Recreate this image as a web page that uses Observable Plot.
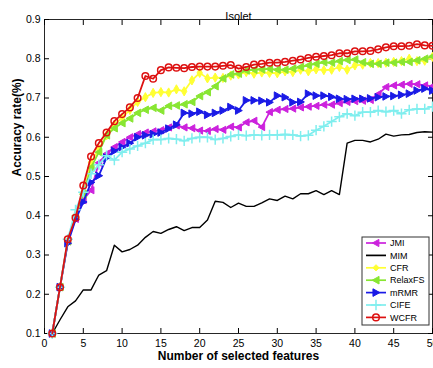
<!DOCTYPE html>
<html>
<head>
<meta charset="utf-8">
<script src="https://cdn.jsdelivr.net/npm/d3@7"></script>
<script src="https://cdn.jsdelivr.net/npm/@observablehq/plot@0.6"></script>
<style>
  html, body { margin: 0; padding: 0; background: #fff; overflow: hidden; }
</style>
</head>
<body>
<div id="chart"></div>
<script>
// ---------- data ----------
const features = [1,2,3,4,5,6,7,8,9,10,11,12,13,14,15,16,17,18,19,20,21,22,23,24,25,26,27,28,29,30,31,32,33,34,35,36,37,38,39,40,41,42,43,44,45,46,47,48,49,50];
const seriesNames = ["JMI", "MIM", "CFR", "RelaxFS", "mRMR", "CIFE", "WCFR"];

const JMI = [0.100,0.218,0.335,0.392,0.440,0.465,0.535,0.558,0.575,0.588,0.600,0.608,0.612,0.615,0.618,0.625,0.630,0.625,0.623,0.617,0.616,0.621,0.619,0.627,0.625,0.638,0.642,0.626,0.664,0.670,0.672,0.673,0.676,0.678,0.680,0.683,0.683,0.687,0.690,0.692,0.693,0.695,0.710,0.728,0.732,0.734,0.736,0.735,0.732,0.730];
const MIM = [0.100,0.135,0.168,0.183,0.211,0.211,0.249,0.260,0.325,0.308,0.314,0.325,0.345,0.360,0.355,0.365,0.372,0.362,0.370,0.370,0.389,0.437,0.434,0.421,0.432,0.424,0.424,0.433,0.443,0.439,0.450,0.443,0.456,0.456,0.464,0.454,0.464,0.454,0.585,0.592,0.592,0.588,0.595,0.608,0.603,0.606,0.607,0.612,0.614,0.613];
const CFR = [0.100,0.218,0.335,0.400,0.460,0.536,0.570,0.605,0.632,0.650,0.670,0.690,0.702,0.713,0.715,0.714,0.722,0.717,0.745,0.764,0.750,0.752,0.751,0.757,0.760,0.766,0.762,0.765,0.764,0.763,0.768,0.766,0.772,0.768,0.773,0.771,0.772,0.779,0.772,0.783,0.785,0.789,0.789,0.790,0.792,0.794,0.800,0.794,0.795,0.805];
const RelaxFS = [0.100,0.218,0.335,0.400,0.455,0.523,0.562,0.605,0.623,0.636,0.648,0.662,0.670,0.675,0.668,0.680,0.681,0.684,0.690,0.705,0.715,0.730,0.750,0.760,0.762,0.770,0.772,0.773,0.774,0.772,0.772,0.775,0.779,0.783,0.787,0.791,0.790,0.794,0.797,0.798,0.791,0.787,0.787,0.790,0.790,0.792,0.792,0.796,0.800,0.806];
const mRMR = [0.100,0.218,0.330,0.390,0.435,0.485,0.502,0.548,0.565,0.575,0.585,0.600,0.605,0.608,0.612,0.622,0.632,0.662,0.660,0.665,0.657,0.662,0.668,0.677,0.668,0.694,0.694,0.693,0.689,0.706,0.702,0.689,0.690,0.711,0.706,0.706,0.703,0.698,0.697,0.698,0.698,0.699,0.702,0.704,0.705,0.708,0.711,0.719,0.724,0.719];
const CIFE = [0.100,0.218,0.340,0.415,0.460,0.507,0.530,0.553,0.542,0.562,0.570,0.578,0.585,0.594,0.594,0.597,0.595,0.591,0.597,0.600,0.600,0.594,0.597,0.602,0.606,0.604,0.606,0.605,0.606,0.606,0.607,0.606,0.603,0.605,0.618,0.628,0.640,0.652,0.660,0.655,0.664,0.664,0.668,0.665,0.668,0.660,0.670,0.672,0.672,0.678];
const WCFR = [0.100,0.218,0.340,0.395,0.477,0.551,0.585,0.612,0.641,0.659,0.676,0.700,0.756,0.749,0.771,0.778,0.777,0.776,0.779,0.780,0.780,0.780,0.782,0.784,0.775,0.779,0.785,0.787,0.790,0.790,0.792,0.795,0.798,0.802,0.805,0.807,0.809,0.814,0.814,0.819,0.819,0.820,0.824,0.829,0.832,0.832,0.833,0.837,0.834,0.833];

const xTicks = [0,5,10,15,20,25,30,35,40,45,50];
const yTicks = [0.1,0.2,0.3,0.4,0.5,0.6,0.7,0.8,0.9];
const titleText = "Isolet";
const xLabel = "Number of selected features";
const yLabel = "Accuracy rate(%)";

// ---------- custom marker shapes ----------
const triLeft = { draw(ctx, size) { const r = Math.sqrt(size / Math.PI); ctx.moveTo(-r, 0); ctx.lineTo(r * 0.8, -r); ctx.lineTo(r * 0.8, r); ctx.closePath(); } };
const triRight = { draw(ctx, size) { const r = Math.sqrt(size / Math.PI); ctx.moveTo(r, 0); ctx.lineTo(-r * 0.8, -r); ctx.lineTo(-r * 0.8, r); ctx.closePath(); } };

const styles = {
  JMI:     { color: "#cc22dd", symbol: triLeft,  fill: "#cc22dd", r: 3.6 },
  MIM:     { color: "#000000", symbol: null },
  CFR:     { color: "#ffff33", symbol: "diamond", fill: "#ffff33", r: 2.8 },
  RelaxFS: { color: "#88e632", symbol: triLeft,  fill: "#88e632", r: 3.8 },
  mRMR:    { color: "#1a1ae6", symbol: triRight, fill: "#1a1ae6", r: 3.8 },
  CIFE:    { color: "#80eeee", symbol: "plus",   fill: "none",    r: 3.4 },
  WCFR:    { color: "#dd1111", symbol: "circle", fill: "none",    r: 3.3 }
};

const seriesValues = { JMI, MIM, CFR, RelaxFS, mRMR, CIFE, WCFR };
const rows = seriesNames.flatMap(name => features.map((f, i) => ({ name, x: f, y: seriesValues[name][i] })));

const marks = [
  Plot.frame({ stroke: "#262626", strokeWidth: 1 }),
  Plot.axisX(xTicks, { anchor: "bottom", tickSize: -5, tickPadding: 11, label: null, fontSize: 10.5 }),
  Plot.axisX(xTicks, { anchor: "top", tickSize: -5, tickFormat: () => "", label: null }),
  Plot.axisY(yTicks, { anchor: "left", tickSize: -5, tickPadding: 9, label: null, fontSize: 10.5, tickFormat: d3.format(".1f") }),
  Plot.axisY(yTicks, { anchor: "right", tickSize: -5, tickFormat: () => "", label: null }),
  Plot.text([titleText], { frameAnchor: "top", dy: -7, fontSize: 11 }),
  Plot.text([xLabel], { frameAnchor: "bottom", dy: 26, fontSize: 12, fontWeight: "bold" }),
  Plot.text([yLabel], { frameAnchor: "left", dx: -27, rotate: -90, fontSize: 12, fontWeight: "bold" })
];

for (const name of seriesNames) {
  const st = styles[name];
  const data = rows.filter(d => d.name === name);
  marks.push(Plot.line(data, { x: "x", y: "y", stroke: st.color, strokeWidth: name === "MIM" ? 1.4 : 1.8 }));
  if (st.symbol) {
    marks.push(Plot.dot(data, {
      x: "x", y: "y", symbol: st.symbol, r: st.r,
      fill: st.fill, stroke: st.color,
      strokeWidth: (name === "CIFE" || name === "WCFR") ? 1.5 : 1
    }));
  }
}

const chart = Plot.plot({
  width: 433,
  height: 368,
  marginLeft: 44,
  marginRight: 1,
  marginTop: 19,
  marginBottom: 35,
  style: { fontFamily: "'Liberation Sans', Arial, Helvetica, sans-serif", background: "#fff", color: "#000", overflow: "visible" },
  x: { domain: [0, 50] },
  y: { domain: [0.1, 0.9] },
  marks
});
document.getElementById("chart").append(chart);

// ---------- legend (decoration drawn onto the same svg) ----------
const svg = d3.select(chart.tagName.toLowerCase() === "svg" ? chart : chart.querySelector("svg"));
const lg = svg.append("g")
  .attr("font-family", "'Liberation Sans', Arial, sans-serif")
  .attr("font-size", 9)
  .attr("text-anchor", "start");
const lx = 362, ly = 237, lw = 67, lh = 88, rowH = 12.4;
lg.append("rect").attr("x", lx).attr("y", ly).attr("width", lw).attr("height", lh)
  .attr("fill", "#fff").attr("stroke", "#333").attr("stroke-width", 1);
seriesNames.forEach((name, i) => {
  const st = styles[name];
  const cy = ly + 6 + i * rowH;
  lg.append("line").attr("x1", lx + 4).attr("x2", lx + 24).attr("y1", cy).attr("y2", cy)
    .attr("stroke", st.color).attr("stroke-width", 1.7);
  if (st.symbol) {
    const type = typeof st.symbol === "string"
      ? { circle: d3.symbolCircle, diamond: d3.symbolDiamond2, plus: d3.symbolPlus }[st.symbol]
      : st.symbol;
    lg.append("path").attr("transform", `translate(${lx + 14},${cy})`)
      .attr("d", d3.symbol(type, Math.PI * st.r * st.r)())
      .attr("fill", st.fill).attr("stroke", st.color)
      .attr("stroke-width", (name === "CIFE" || name === "WCFR") ? 1.5 : 1);
  }
  lg.append("text").attr("x", lx + 28).attr("y", cy).attr("dy", "0.35em")
    .attr("text-anchor", "start").attr("fill", "#000").text(name);
});
</script>
</body>
</html>
